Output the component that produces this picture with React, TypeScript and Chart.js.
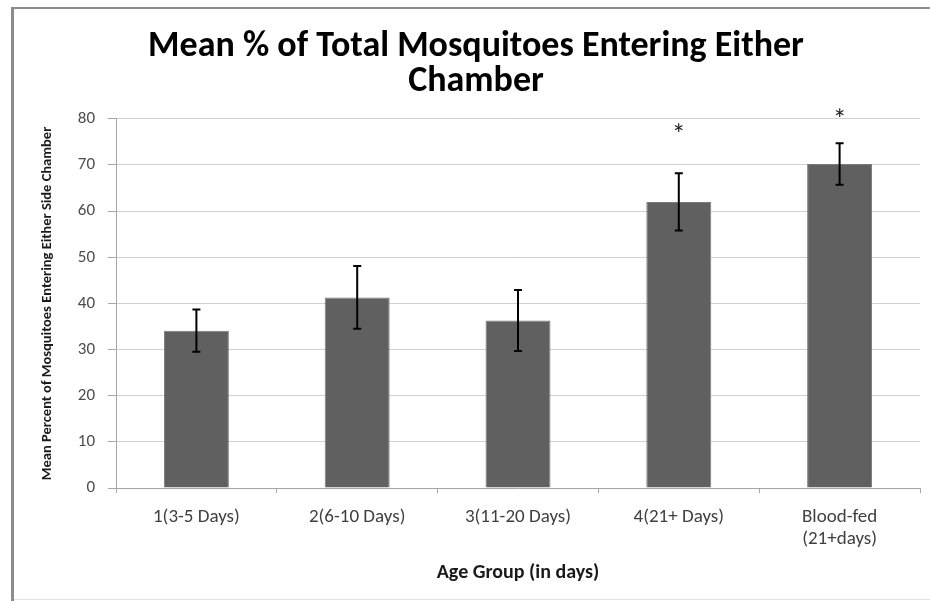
import React, { useEffect, useRef } from "react";
import { Chart, registerables } from "chart.js";

Chart.register(...registerables);

const categories: (string | string[])[] = [
  "1(3-5 Days)",
  "2(6-10 Days)",
  "3(11-20 Days)",
  "4(21+ Days)",
  ["Blood-fed", "(21+days)"],
];
const means = [34.1, 41.3, 36.3, 62.0, 70.2];
const errors = [4.6, 6.8, 6.6, 6.2, 4.5];
const sigMarks: (number | null)[] = [null, null, null, 77.3, 80.6];
const yTicks = [0, 10, 20, 30, 40, 50, 60, 70, 80];

const FONT = "Carlito, 'Liberation Sans Narrow', 'DejaVu Sans Condensed', 'Open Sans', sans-serif";

const errorBarPlugin = {
  id: "errorBars",
  afterDatasetsDraw(chart: any) {
    const { ctx, scales } = chart;
    const xs = scales.x;
    const ys = scales.y;
    ctx.save();
    ctx.strokeStyle = "#000";
    ctx.lineWidth = 2;
    means.forEach((m, i) => {
      const x = xs.getPixelForValue(i);
      const yTop = ys.getPixelForValue(m + errors[i]);
      const yBot = ys.getPixelForValue(m - errors[i]);
      ctx.beginPath();
      ctx.moveTo(x, yTop);
      ctx.lineTo(x, yBot);
      ctx.moveTo(x - 4, yTop);
      ctx.lineTo(x + 4, yTop);
      ctx.moveTo(x - 4, yBot);
      ctx.lineTo(x + 4, yBot);
      ctx.stroke();
    });
    ctx.fillStyle = "#222";
    ctx.font = `28px ${FONT}`;
    ctx.textAlign = "center";
    ctx.textBaseline = "middle";
    sigMarks.forEach((v, i) => {
      if (v === null) return;
      ctx.fillText("*", xs.getPixelForValue(i), ys.getPixelForValue(v) + 6);
    });
    ctx.restore();
  },
};

export default function App() {
  const ref = useRef<HTMLCanvasElement | null>(null);
  useEffect(() => {
    if (!ref.current) return;
    const chart = new Chart(ref.current, {
      type: "bar",
      data: {
        labels: categories,
        datasets: [
          {
            data: means,
            backgroundColor: "#606060",
            borderColor: "#7a7a7a",
            borderWidth: 1,
            categoryPercentage: 1,
            barPercentage: 0.404,
          },
        ],
      },
      options: {
        animation: false,
        responsive: true,
        maintainAspectRatio: false,
        layout: { padding: { left: 18, right: 10, top: 0, bottom: 0 } },
        plugins: {
          legend: { display: false },
          tooltip: { enabled: false },
          title: {
            display: true,
            text: ["Mean % of Total Mosquitoes Entering Either", "Chamber"],
            color: "#000",
            font: { family: FONT, size: 36, weight: "bold", lineHeight: 0.97 },
            padding: { top: 21, bottom: 19 },
          },
        },
        scales: {
          x: {
            grid: {
              display: true,
              drawOnChartArea: false,
              drawTicks: true,
              tickLength: 5,
              color: "#a6a6a6",
              offset: true,
            },
            border: { display: true, color: "#a6a6a6" },
            ticks: {
              color: "#404040",
              font: { family: FONT, size: 19, lineHeight: 1.16 },
              padding: 13,
              maxRotation: 0,
              autoSkip: false,
            },
            title: {
              display: true,
              text: "Age Group (in days)",
              color: "#1a1a1a",
              font: { family: FONT, size: 20, weight: "bold" },
              padding: { top: 0, bottom: 14 },
            },
            afterFit(scale: any) {
              scale.height = 111;
            },
          },
          y: {
            min: 0,
            max: 80,
            afterBuildTicks(scale: any) {
              scale.ticks = yTicks.map((v) => ({ value: v }));
            },
            grid: {
              color: "#d0d0d0",
              lineWidth: 1,
              drawTicks: true,
              tickLength: 8,
              tickColor: "#a6a6a6",
            },
            border: { display: true, color: "#a6a6a6" },
            ticks: {
              color: "#4d4d4d",
              font: { family: FONT, size: 17 },
              padding: 13,
            },
            title: {
              display: true,
              text: "Mean Percent of Mosquitoes Entering Either Side Chamber",
              color: "#1a1a1a",
              font: { family: FONT, size: 14.5, weight: "bold" },
              padding: { top: 7, bottom: 0 },
            },
            afterFit(scale: any) {
              scale.width = 84;
            },
          },
        },
      },
      plugins: [errorBarPlugin],
    } as any);
    return () => chart.destroy();
  }, []);

  return (
    <div style={{ position: "fixed", left: 0, top: 0, width: 930, height: 601, background: "#fff", overflow: "hidden" }}>
      <div style={{ position: "absolute", left: 11, top: 7, width: 3, height: 594, background: "#8c8c8c" }} />
      <div style={{ position: "absolute", left: 11, top: 7, width: 919, height: 2, background: "#8c8c8c" }} />
      <div style={{ position: "absolute", left: 14, top: 599, width: 916, height: 1, background: "#e0e0e0" }} />
      <div style={{ position: "absolute", left: 14, top: 9, width: 916, height: 590 }}>
        <canvas ref={ref} />
      </div>
    </div>
  );
}
